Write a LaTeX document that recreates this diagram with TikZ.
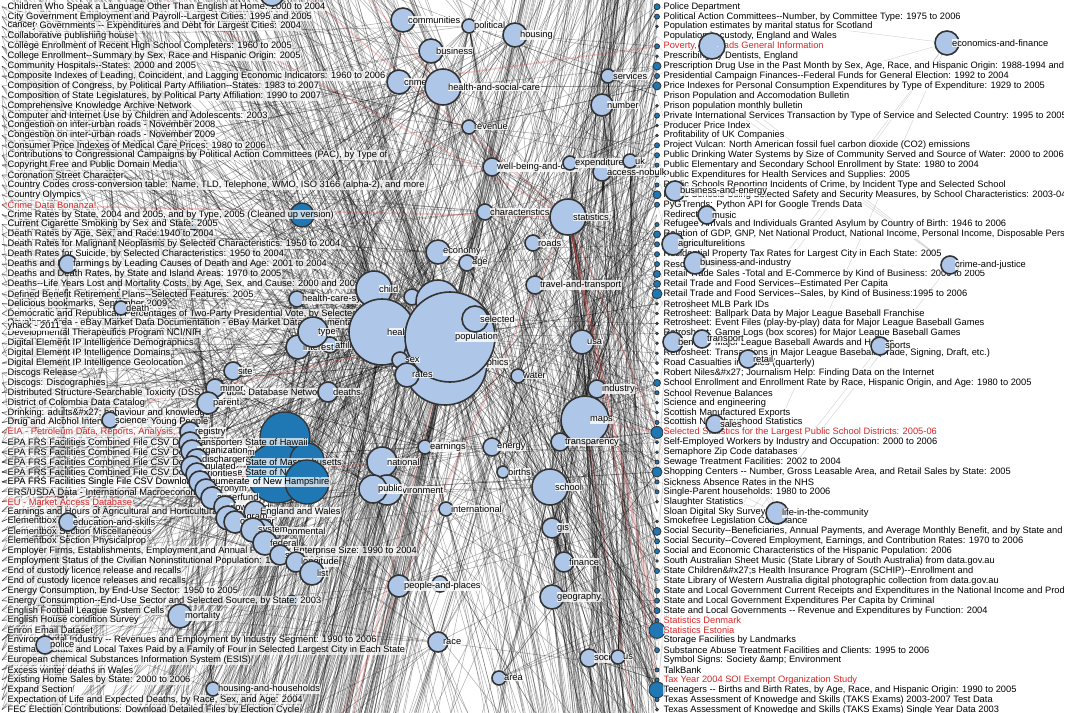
\documentclass[tikz,border=0pt]{standalone}
\usepackage{fontspec}
\setmainfont{Liberation Sans}[Ligatures=TeXOff]
\usepackage{tikz}

\pgfdeclarelayer{edges}
\pgfsetlayers{edges,main}

\definecolor{tagblue}{HTML}{AEC7E8}
\definecolor{setblue}{HTML}{1F77B4}
\definecolor{ring}{HTML}{333333}
\definecolor{hotred}{HTML}{D62728}
\colorlet{txk}{black}
\colorlet{txr}{hotred}

\tikzset{
  tagnode/.style={circle, draw=ring, fill=tagblue, line width=1.6pt, inner sep=0pt, minimum size=#1},
  setnode/.style={circle, draw=ring, fill=setblue, line width=1.3pt, inner sep=0pt, minimum size=#1},
  setdot/.style={circle, draw=ring, fill=setblue, line width=0.8pt, inner sep=0pt, minimum size=#1},
  taglabel/.style={anchor=west, font=\fontsize{9.3}{10}\selectfont, fill=white, fill opacity=0.8, text opacity=1, inner sep=0.4pt},
  coltext/.style={anchor=west, font=\fontsize{9.3}{10}\selectfont, fill=white, fill opacity=0.7, text opacity=1, inner sep=0.4pt},
  link/.style={draw=black, opacity=0.3, line width=0.55pt},
  farlink/.style={draw=black!45, opacity=0.35, line width=0.5pt},
  hotlink/.style={draw=hotred, opacity=0.22, line width=1.6pt}
}

% sizes of the dataset dots in the right column
\def\dotsizes{3,2.5,1.3,0,2.5,1.3,4,2.5,4,0,1.3,2.5,1.3,1.3,2.5,2.5,2,2,
  2,4,2.5,0,2,3.5,2.5,2.5,2.5,3.5,3.5,5,1.3,1.3,1.3,1.3,1.3,1.3,
  1.5,1.3,3.5,2,1.3,1.3,2,6,1.5,1.3,2,5,2,2,1.3,0,1.3,
  4,2.5,2.5,1.3,2.5,0,2.5,2.5,3,2,8,0,2.5,0,2,2,8,2,1.5}

\pgfmathdeclarerandomlist{midL}{{population}{population}{population}{population}{demographics}{demographics}{demographics}{health}{health}{health}{child}{child}{demo2}{selected}{sex}{rates}{type}{interest}{affil}{national}{public}{environment}{economy}{age}{hsc}{hsc}{deaths}{crime}{business}{communities}{housing}{political}{site}{parent}{minor}{program}{list}{sites}{federal}{mortality}{peopleplaces}{race}{international}{earnings}{energy}{statistics}{school}{hcs}{jobs}{farming}{death}{science}{education}{police}{households}{revenue}{wellbeing}{characteristics}}
\pgfmathdeclarerandomlist{midR}{{population}{population}{population}{demographics}{demographics}{health}{selected}{selected}{statistics}{statistics}{statistics}{maps}{maps}{school}{school}{usa}{industry}{water}{travel}{roads}{characteristics}{wellbeing}{number}{services}{geography}{gis}{finance}{society}{us}{area}{race}{births}{energy}{transparency}{expenditure}{accessnb}{uk}{housing}{political}{revenue}{national}{public}{economy}{age}{earnings}{international}{peopleplaces}{hsc}}
\pgfmathdeclarerandomlist{farR}{{econfin}{econfin}{crimejustice}{crimejustice}{sports}{life}{life}{retail}{sales}{music}{agriculture}{businessindustry}{businessenergy}{benefits}{transport}{poverty}}
\pgfmathdeclarerandomlist{epaT}{{registry}{transporter}{organization}{discharger}{regulated}{priorities}{enumerate}{acronym}{superfund}{download}{program}{system}{environmental}{federal}{sites}{longitude}{list}}

\begin{document}
\begin{tikzpicture}[x=1pt,y=-1pt]
\useasboundingbox (0,0) rectangle (1089,712);
\clip (0,0) rectangle (1089,712);

% anchor points of the two dataset lists
\foreach \i in {1,...,72} {
  \coordinate (L\i) at (2,{6.7+(\i-1)*9.9});
  \coordinate (R\i) at (657,{6.7+(\i-1)*9.9});
}
% datasets scrolled out of view
\foreach \k in {1,...,60} {\coordinate (LA\k) at (2,{-\k*22});}
\foreach \k in {1,...,90} {\coordinate (LB\k) at (2,{712+\k*25});}
\foreach \k in {1,...,35} {\coordinate (RA\k) at (657,{-\k*22});}
\foreach \k in {1,...,40} {\coordinate (RB\k) at (657,{712+\k*25});}

% dataset dots
\foreach \r [count=\i] in \dotsizes {
  \ifdim \r pt>0pt \node[setdot=2*\r] (rd\i) at (R\i) {}; \fi
}
\node[setnode=24] (crimeset) at (302,215) {};
\node[setnode=6] (smokeset) at (193,227) {};
\node[setnode=10] (energyset) at (292,600) {};
\node[setnode=50] (hawaiiset) at (285,437) {};
\node[setnode=60] (jerseyset) at (277,473) {};
\node[setnode=34] (massset) at (307,460) {};

% left column
\foreach \txt/\col [count=\i] in {
{Children Who Speak a Language Other Than English at Home: 2000 to 2004}/k,
{City Government Employment and Payroll--Largest Cities: 1995 and 2005}/k,
{County Governments -- Expenditures and Debt for Largest Cities: 2004}/k,
{Collaborative publishing house}/k,
{College Enrollment of Recent High School Completers: 1960 to 2005}/k,
{College Enrollment--Summary by Sex, Race and Hispanic Origin: 2005}/k,
{Community Hospitals--States: 2000 and 2005}/k,
{Composite Indexes of Leading, Coincident, and Lagging Economic Indicators: 1960 to 2006}/k,
{Composition of Congress, by Political Party Affiliation--States: 1983 to 2007}/k,
{Composition of State Legislatures, by Political Party Affiliation: 1990 to 2007}/k,
{Comprehensive Knowledge Archive Network}/k,
{Computer and Internet Use by Children and Adolescents: 2003}/k,
{Congestion on inter-urban roads - November 2008}/k,
{Congestion on inter-urban roads - November 2009}/k,
{Consumer Price Indexes of Medical Care Prices: 1980 to 2006}/k,
{Contributions to Congressional Campaigns by Political Action Committees (PAC), by Type of}/k,
{Copyright Free and Public Domain Media}/k,
{Coronation Street Character}/k,
{Country Codes cross-conversion table: Name, TLD, Telephone, WMO, ISO 3166 (alpha-2), and more}/k,
{Country Olympics}/k,
{Crime Data Bonanza!}/r,
{Crime Rates by State, 2004 and 2005, and by Type, 2005 (Cleaned up version)}/k,
{Current Cigarette Smoking by Sex and State: 2005}/k,
{Death Rates by Age, Sex, and Race:1940 to 2004}/k,
{Death Rates for Malignant Neoplasms by Selected Characteristics: 1950 to 2004}/k,
{Death Rates for Suicide, by Selected Characteristics: 1950 to 2004}/k,
{Deaths and Death Rates by Leading Causes of Death and Age: 2001 to 2004}/k,
{Deaths and Death Rates, by State and Island Areas: 1970 to 2005}/k,
{Deaths--Life Years Lost and Mortality Costs, by Age, Sex, and Cause: 2000 and 2005}/k,
{Defined Benefit Retirement Plans--Selected Features: 2005}/k,
{Delicious bookmarks, September 2009}/k,
{Democratic and Republican Percentages of Two-Party Presidential Vote, by Selected States}/k,
{Developer Area - eBay Market Data Documentation - eBay Market Data Documentation}/k,
{Developmental Therapeutics Program NCI/NIH}/k,
{Digital Element IP Intelligence Demographics}/k,
{Digital Element IP Intelligence Domains}/k,
{Digital Element IP Intelligence Geolocation}/k,
{Discogs Release}/k,
{Discogs: Discographies}/k,
{Distributed Structure-Searchable Toxicity (DSSTox) Public Database Network}/k,
{District of Colombia Data Catalog}/k,
{Drinking: adults\&\#x27; behaviour and knowledge}/k,
{Drug and Alcohol Interventions for Young People}/k,
{EIA - Petroleum Data, Reports, Analysis, Surveys}/r,
{EPA FRS Facilities Combined File CSV Download for the State of Hawaii}/k,
{EPA FRS Facilities Combined File CSV Download for Guam}/k,
{EPA FRS Facilities Combined File CSV Download for the State of Massachusetts}/k,
{EPA FRS Facilities Combined File CSV Download for the State of New York}/k,
{EPA FRS Facilities Single File CSV Download for the State of New Hampshire}/k,
{ERS/USDA Data - International Macroeconomic Data Set}/k,
{EU - Market Access Database}/r,
{Earnings and Hours of Agricultural and Horticultural Workers}/k,
{Elementbox Section Geometry}/k,
{Elementbox Section Miscellaneous}/k,
{Elementbox Section Physicalprop}/k,
{Employer Firms, Establishments, Employment,and Annual Payroll by Enterprise Size: 1990 to 2004}/k,
{Employment Status of the Civilian Noninstitutional Population: 1970 to 2006}/k,
{End of custody licence release and recalls}/k,
{End of custody licence releases and recalls}/k,
{Energy Consumption, by End-Use Sector: 1950 to 2005}/k,
{Energy Consumption--End-Use Sector and Selected Source, by State: 2003}/k,
{English Football League System Cells}/k,
{English House condition Survey}/k,
{Enron Email Dataset}/k,
{Environmental Industry -- Revenues and Employment by Industry Segment: 1990 to 2006}/k,
{Estimated State and Local Taxes Paid by a Family of Four in Selected Largest City in Each State}/k,
{European chemical Substances Information System (ESIS)}/k,
{Excess winter deaths in Wales}/k,
{Existing Home Sales by State: 2000 to 2006}/k,
{Expand Section}/k,
{Expectation of Life and Expected Deaths, by Race, Sex, and Age: 2004}/k,
{FEC Election Contributions: Download Detailed Files by Election Cycle}/k} {
  \node[coltext, text=tx\col] (lt\i) at (7,{6.7+(\i-1)*9.9}) {\txt};
}

% right column
\begin{scope}
\clip (600,-5) rectangle (1063,720);
\foreach \txt/\col [count=\i] in {
{Police Department}/k,
{Political Action Committees--Number, by Committee Type: 1975 to 2006}/k,
{Population estimates by marital status for Scotland}/k,
{Population in custody, England and Wales}/k,
{Poverty, Railroads General Information}/r,
{Prescribing by Dentists, England}/k,
{Prescription Drug Use in the Past Month by Sex, Age, Race, and Hispanic Origin: 1988-1994 and 2001-2004}/k,
{Presidential Campaign Finances--Federal Funds for General Election: 1992 to 2004}/k,
{Price Indexes for Personal Consumption Expenditures by Type of Expenditure: 1929 to 2005}/k,
{Prison Population and Accomodation Bulletin}/k,
{Prison population monthly bulletin}/k,
{Private International Services Transaction by Type of Service and Selected Country: 1995 to 2005}/k,
{Producer Price Index}/k,
{Profitability of UK Companies}/k,
{Project Vulcan: North American fossil fuel carbon dioxide (CO2) emissions}/k,
{Public Drinking Water Systems by Size of Community Served and Source of Water: 2000 to 2006}/k,
{Public Elementary and Secondary School Enrollment by State: 1980 to 2004}/k,
{Public Expenditures for Health Services and Supplies: 2005}/k,
{Public Schools Reporting Incidents of Crime, by Incident Type and Selected School}/k,
{Public Schools Using Selected Safety and Security Measures, by School Characteristics: 2003-04}/k,
{PyGTrends: Python API for Google Trends Data}/k,
{Redirect}/k,
{Refugee Arrivals and Individuals Granted Asylum by Country of Birth: 1946 to 2006}/k,
{Relation of GDP, GNP, Net National Product, National Income, Personal Income, Disposable Personal Income}/k,
{Religious Traditions}/k,
{Residential Property Tax Rates for Largest City in Each State: 2005}/k,
{Resource Allocation}/k,
{Retail Trade Sales -Total and E-Commerce by Kind of Business: 2000 to 2005}/k,
{Retail Trade and Food Services--Estimated Per Capita}/k,
{Retail Trade and Food Services--Sales, by Kind of Business:1995 to 2006}/k,
{Retrosheet MLB Park IDs}/k,
{Retrosheet: Ballpark Data by Major League Baseball Franchise}/k,
{Retrosheet: Event Files (play-by-play) data for Major League Baseball Games}/k,
{Retrosheet: Game Logs (box scores) for Major League Baseball Games}/k,
{Retrosheet: Major League Baseball Awards and Honors}/k,
{Retrosheet: Transactions in Major League Baseball (Trade, Signing, Draft, etc.)}/k,
{Road Casualties in Wales (quarterly)}/k,
{Robert Niles\&\#x27; Journalism Help: Finding Data on the Internet}/k,
{School Enrollment and Enrollment Rate by Race, Hispanic Origin, and Age: 1980 to 2005}/k,
{School Revenue Balances}/k,
{Science and engineering}/k,
{Scottish Manufactured Exports}/k,
{Scottish Neighbourhood Statistics}/k,
{Selected Statistics for the Largest Public School Districts: 2005-06}/r,
{Self-Employed Workers by Industry and Occupation: 2000 to 2006}/k,
{Semaphore Zip Code databases}/k,
{Sewage Treatment Facilities: 2002 to 2004}/k,
{Shopping Centers -- Number, Gross Leasable Area, and Retail Sales by State: 2005}/k,
{Sickness Absence Rates in the NHS}/k,
{Single-Parent households: 1980 to 2006}/k,
{Slaughter Statistics}/k,
{Sloan Digital Sky Survey}/k,
{Smokefree Legislation Compliance}/k,
{Social Security--Beneficiaries, Annual Payments, and Average Monthly Benefit, and by State and Other Areas}/k,
{Social Security--Covered Employment, Earnings, and Contribution Rates: 1970 to 2006}/k,
{Social and Economic Characteristics of the Hispanic Population: 2006}/k,
{South Australian Sheet Music (State Library of South Australia) from data.gov.au}/k,
{State Children\&\#x27;s Health Insurance Program (SCHIP)--Enrollment and}/k,
{State Library of Western Australia digital photographic collection from data.gov.au}/k,
{State and Local Government Current Receipts and Expenditures in the National Income and Product Accounts}/k,
{State and Local Government Expenditures Per Capita by Criminal}/k,
{State and Local Governments -- Revenue and Expenditures by Function: 2004}/k,
{Statistics Denmark}/r,
{Statistics Estonia}/r,
{Storage Facilities by Landmarks}/k,
{Substance Abuse Treatment Facilities and Clients: 1995 to 2006}/k,
{Symbol Signs: Society \&amp; Environment}/k,
{TalkBank}/k,
{Tax Year 2004 SOI Exempt Organization Study}/r,
{Teenagers -- Births and Birth Rates, by Age, Race, and Hispanic Origin: 1990 to 2005}/k,
{Texas Assessment of Knowedge and Skills (TAKS Exams) 2003-2007 Test Data}/k,
{Texas Assessment of Knowedge and Skills (TAKS Exams) Single Year Data 2003}/k} {
  \node[coltext, text=tx\col] (rt\i) at (663,{6.7+(\i-1)*9.9}) {\txt};
}
\end{scope}

\node[setnode=44] (hampshireset) at (307,482) {};
\node[coltext] at (lt49.west) {EPA FRS Facilities Single File CSV Download for the State of New Hampshire};

% tag nodes
\foreach \nm/\x/\y/\r/\lab in {
  topa/272/-6/12/{}, communities/403/20/12/communities, political/469/26/7/political,
  housing/515/35/12/housing, business/431/51/12/business, crime/399/82/12/crime,
  hsc/443/87/18/health-and-social-care, revenue/469/127/7/revenue, services/608/76/7/services,
  number/602/105/11/number, wellbeing/492/167/9/well-being-and-care, accessnb/602/172/9/access-nobulk,
  expenditure/570/163/7/expenditure, uk/630/161/7/uk, characteristics/485/212/8/characteristics,
  statistics/568/217/18/statistics, roads/533/243/8/roads, economy/438/252/12/economy,
  age/467/263/8/age, travel/535/285/9/travel-and-transport, hcs/297/299/8/health-care-system,
  child/374/289/18/child, jobs/412/297/8/jobs, affil/330/345/8/affiliation,
  interest/298/347/12/interest, type/313/332/15/type, health/382/332/33/health,
  demo2/438/302/22/{}, demographics/445/363/42/demographics, population/450/337/45/population,
  selected/475/319/13/selected, sex/400/360/8/sex, rates/407/375/12/rates,
  usa/582/342/12/usa, water/518/376/7/water, industry/597/389/9/industry,
  maps/585/420/24/maps, transparency/560/442/9/transparency, site/233/371/9/site,
  minor/215/388/9/minor, parent/208/403/11/parent, deaths/328/392/10/deaths,
  science/110/420/8/science, earnings/425/447/7/earnings, energy/492/447/9/energy,
  national/382/462/15/national, registry/190/432/10/registry, transporter/190/443/11/transporter,
  organization/192/451/11/organization, discharger/197/460/11/discharger, regulated/192/467/11/regulated,
  priorities/197/474/11/priorities, enumerate/200/482/11/enumerate, acronym/206/490/11/acronym,
  superfund/212/498/11/superfund, download/225/507/11/download, englandwales/255/512/11/England and Wales,
  program/228/518/12/program, operator/235/522/11/operator, environmental/262/531/12/environmental,
  system/253/530/12/system, federal/265/543/12/federal, sites/280/555/10/sites,
  longitude/296/562/10/longitude, list/312/573/12/list, births/503/472/6/births,
  school/550/487/18/school, environment/387/490/15/environment, public/373/489/14/public,
  international/446/509/7/international, gis/552/528/10/gis, finance/564/562/10/finance,
  placesb/440/584/8/{}, peopleplaces/399/586/11/people-and-places, geography/552/597/12/geography,
  race/438/642/10/race, area/499/678/7/area, society/589/658/9/society,
  us/618/657/7/us, farming/68/264/9/farming, death/121/308/7/death,
  education/68/522/9/education-and-skills, mortality/180/616/12/mortality, police/45/645/9/police,
  households/213/689/7/housing-and-households, econfin/947/43/12/economics-and-finance, poverty/712/46/13/{},
  businessenergy/675/191/10/business-and-energy, music/707/215/9/music, agriculture/673/244/11/agriculture,
  businessindustry/695/263/11/business-and-industry, crimejustice/950/265/9/crime-and-justice,
  benefits/673/342/10/benefits, transport/702/339/9/transport, sports/880/346/9/sports,
  retail/748/359/9/retail, sales/715/424/9/sales, life/777/513/11/life-in-the-community} {
  \node[tagnode=2*\r] (\nm) at (\x,\y) {};
  \node[taglabel] at ({\x+4.5},\y) {\lab};
}
\node[taglabel] (cancerlab) at (7,25) {cancer};
\node[taglabel] (yhacklab) at (7,326) {yhack - 2011};

% connectors, under everything else
\begin{pgfonlayer}{edges}
\fill[white] (0,0) rectangle (1089,712);
\pgfmathsetseed{31}
\foreach \i in {1,...,72} {
  \foreach \k in {1,...,5} {\pgfmathrandomitem{\tg}{midL}\draw[link] (L\i) -- (\tg);}
}
\foreach \i in {1,...,60} {
  \foreach \k in {1,...,5} {\pgfmathrandomitem{\tg}{midL}\draw[link] (LA\i) -- (\tg);}
}
\foreach \i in {1,...,90} {
  \foreach \k in {1,...,5} {\pgfmathrandomitem{\tg}{midL}\draw[link] (LB\i) -- (\tg);}
}
\foreach \r [count=\i] in \dotsizes {
  \pgfmathtruncatemacro{\ne}{2+1.5*\r}
  \foreach \k in {1,...,\ne} {\pgfmathrandomitem{\tg}{midR}\draw[link] (R\i) -- (\tg);}
}
\foreach \i in {1,...,35} {
  \foreach \k in {1,...,5} {\pgfmathrandomitem{\tg}{midR}\draw[link] (RA\i) -- (\tg);}
}
\foreach \i in {1,...,40} {
  \foreach \k in {1,...,5} {\pgfmathrandomitem{\tg}{midR}\draw[link] (RB\i) -- (\tg);}
}
\foreach \i in {45,...,49} {
  \foreach \k in {1,...,4} {\pgfmathrandomitem{\tg}{epaT}\draw[link] (L\i) -- (\tg);}
}
\foreach \k in {1,...,40} {
  \pgfmathrandominteger{\ri}{1}{72}
  \pgfmathrandomitem{\tg}{farR}
  \draw[farlink] (R\ri) -- (\tg);
}
% the red datasets
\draw[hotlink] (L21) -- (statistics);
\draw[hotlink] (L44) -- (population);
\draw[hotlink] (L51) -- (national);
\draw[hotlink] (LA4) -- (statistics);
\draw[hotlink] (LA12) -- (statistics);
\draw[hotlink] (LA20) -- (hsc);
\draw[hotlink] (LB30) -- (statistics);
\draw[hotlink] (LB55) -- (population);
\draw[hotlink] (R5) -- (crime);
\draw[hotlink] (R44) -- (statistics);
\draw[hotlink] (R44) -- (maps);
\draw[hotlink] (R63) -- (statistics);
\draw[hotlink] (R64) -- (statistics);
\draw[hotlink] (R69) -- (statistics);
\draw[hotlink] (RB6) -- (maps);
\end{pgfonlayer}
\end{tikzpicture}
\end{document}
